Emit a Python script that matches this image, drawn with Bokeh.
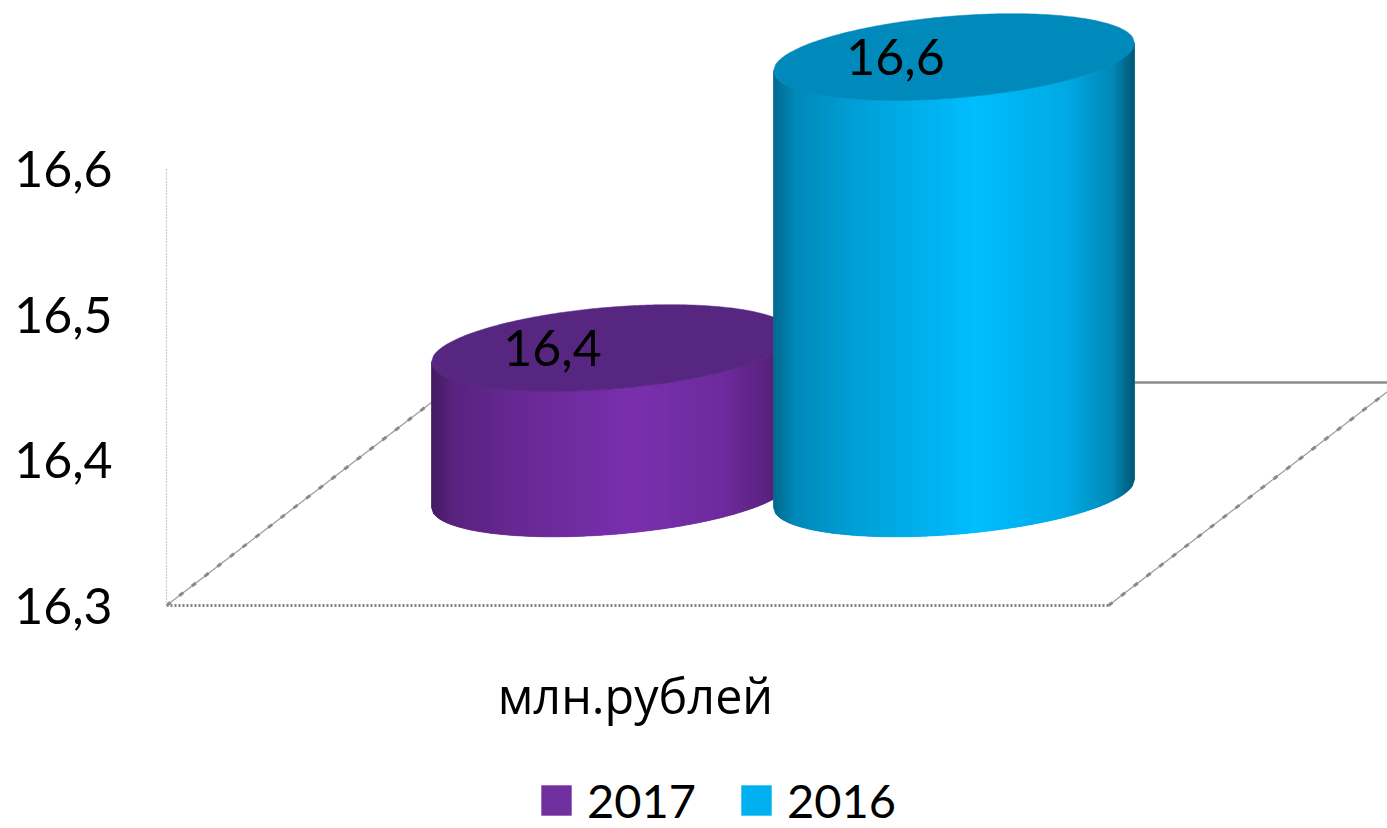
import numpy as np
from bokeh.plotting import figure
from bokeh.embed import file_html
from bokeh.resources import INLINE
from bokeh.core.properties import value
from bokeh.models import FixedTicker, Legend, LegendItem, Range1d

series = ["2017", "2016"]
values = [16.4, 16.6]
value_labels = ["16,4", "16,6"]
y_ticks = [16.3, 16.4, 16.5, 16.6]
y_tick_labels = ["16,3", "16,4", "16,5", "16,6"]
category = "млн.рублей"
peak_colors = [(123, 49, 175), (0, 190, 255)]
top_colors = ["#572680", "#0089BB"]
legend_colors = ["#7030A0", "#00B0F0"]

W, H = 1387, 828
PX = 1455.0          # pixels per value unit
FRAME_L, FRAME_R = 166, W
FLOOR = 605
base_val = 16.3
lift = (605 - 493) / PX   # projected depth of the cylinder's foot
centers = [611.5, 953.5]
a = 180.5
b = 41.0 / PX
s = 14.0 / PX

p = figure(width=W, height=H, output_backend="svg", toolbar_location=None,
           x_axis_location=None,
           min_border_left=FRAME_L, min_border_right=0, min_border_top=0,
           min_border_bottom=0, outline_line_color=None,
           background_fill_color="white", border_fill_color="white")
p.x_range = Range1d(FRAME_L, FRAME_R)
p.y_range = Range1d(base_val - (H - FLOOR) / PX, base_val + FLOOR / PX)
p.xgrid.visible = False
p.ygrid.visible = False

# floor
d = lambda px: px / PX
p.line([166, 1108], [base_val, base_val], line_color="#858585", line_width=2.8, line_dash="2 2")
back = d(223)
for x0 in (166, 1108):
    xs = [x0, x0 + 291]
    ys = [base_val, base_val + back]
    p.line(xs, ys, line_color="#9a9a9a", line_width=1.2)
    p.line(xs, ys, line_color="#8a8a8a", line_width=3, line_dash="5 11")
p.line([457, 1399], [base_val + back] * 2, line_color="#8c8c8c", line_width=2.4)

# cylinders
u = np.linspace(-1, 1, 181)
shade_u = [-1, -0.88, -0.55, 0.12, 0.62, 0.88, 1]
shade_v = [0.55, 0.72, 0.84, 1.0, 0.9, 0.72, 0.45]
renderers = []
for i, val in enumerate(values):
    xc = centers[i]
    foot = base_val + lift
    head = val + lift
    root = np.sqrt(1 - u ** 2)
    xx = xc + a * u
    top_low = head + s * u - b * root
    top_up = head + s * u + b * root
    foot_low = foot + s * u - b * root
    # silhouette (legend glyph colour)
    r = p.patch(np.r_[xx, xx[::-1]], np.r_[top_low, foot_low[::-1]],
                fill_color=legend_colors[i], line_color=None)
    renderers.append(r)
    # shaded strips
    sxs, sys, cols = [], [], []
    for k in range(len(u) - 1):
        m = (u[k] + u[k + 1]) / 2
        f = np.interp(m, shade_u, shade_v)
        c = tuple(int(v * f) for v in peak_colors[i])
        sxs.append([xx[k], xx[k + 1], xx[k + 1], xx[k]])
        sys.append([top_low[k], top_low[k + 1], foot_low[k + 1], foot_low[k]])
        cols.append("#%02x%02x%02x" % c)
    p.patches(sxs, sys, fill_color=cols, line_color=cols, line_width=0.6)
    p.patch(np.r_[xx, xx[::-1]], np.r_[top_up, top_low[::-1]],
            fill_color=top_colors[i], line_color=top_colors[i], line_width=0.5)

# value labels
label_x = [552, 895]
p.text(label_x, [v + lift for v in values], text=value_labels,
       text_font=value("Lato"), text_font_size="50px", text_color="#000000",
       text_align="center", text_baseline="middle")

# category label
p.text([635], [base_val - 89 / PX], text=[category],
       text_font=value("Open Sans"), text_font_size="48.5px", text_color="#000000",
       text_align="center", text_baseline="middle")

# axis
ya = p.yaxis[0]
ya.ticker = FixedTicker(ticks=y_ticks)
ya.major_label_overrides = dict(zip(y_ticks, y_tick_labels))
ya.bounds = (16.3, 16.6)
ya.major_tick_line_color = None
ya.major_tick_out = 0
ya.major_tick_in = 0
ya.minor_tick_line_color = None
ya.axis_line_color = "#9a9a9a"
ya.axis_line_width = 1.2
ya.axis_line_dash = "1 2"
ya.major_label_standoff = 54
ya.major_label_text_font = "Lato"
ya.major_label_text_font_size = "50px"
ya.major_label_text_color = "#000000"

legend = Legend(items=[LegendItem(label=series[i], renderers=[renderers[i]]) for i in range(2)],
                orientation="horizontal", location=(537 - FRAME_L, 0),
                margin=0, padding=0, spacing=41, label_standoff=12,
                glyph_width=38, glyph_height=38, border_line_color=None,
                background_fill_alpha=0,
                label_text_font="Lato", label_text_font_size="47px", label_text_color="#000000")
p.add_layout(legend, "center")

open("out.html", "w").write(file_html(p, INLINE))
